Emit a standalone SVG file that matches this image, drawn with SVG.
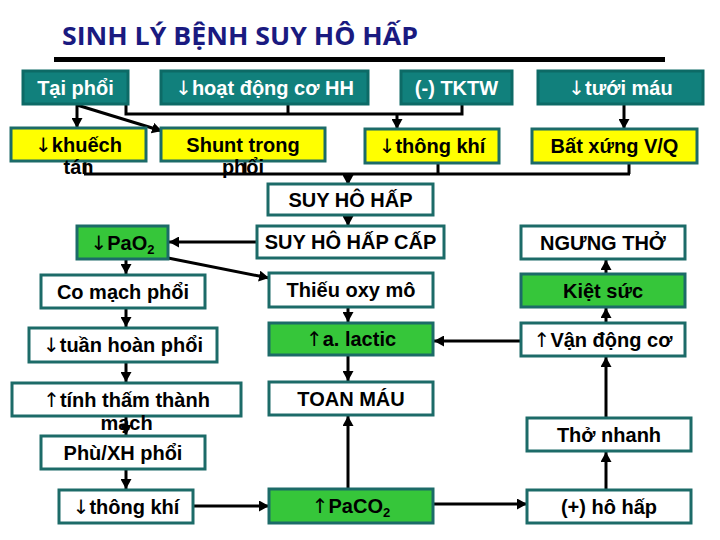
<svg xmlns="http://www.w3.org/2000/svg" width="720" height="540" viewBox="0 0 720 540">
<style>
.t rect{fill:#11807c;stroke:#0d6a66;stroke-width:3}
.y rect{fill:#ffff00;stroke:#1c6b68;stroke-width:3}
.w rect{fill:#ffffff;stroke:#1c6b68;stroke-width:3}
.g rect{fill:#36c63a;stroke:#1c6b68;stroke-width:3}
text{font-family:"Liberation Sans",Arial,sans-serif;font-weight:bold;font-size:20px;text-anchor:middle;fill:#000}
.t text{fill:#ffffff}
.title{font-family:"Open Sans","Noto Sans",sans-serif;font-size:25px;fill:#1a1a80;text-anchor:start}
#edges line,#edges polyline{stroke:#000;stroke-width:3;fill:none}
.sub{font-size:13px}
.ar{font-family:"DejaVu Sans",sans-serif;font-weight:normal;font-size:20px}
</style>
<defs>
<marker id="ah" markerUnits="userSpaceOnUse" markerWidth="10" markerHeight="11" refX="10" refY="5.5" orient="auto">
<path d="M0,0 L10,5.5 L0,11 z" fill="#000"/>
</marker>
</defs>
<rect width="720" height="540" fill="#ffffff"/>
<text class="title" x="62" y="45" textLength="356" lengthAdjust="spacingAndGlyphs">SINH LÝ BỆNH SUY HÔ HẤP</text>
<rect x="54" y="57" width="611" height="5" fill="#000"/>

<g id="edges">
<line x1="77" y1="104" x2="77" y2="128" marker-end="url(#ah)"/>
<line x1="77" y1="105" x2="162" y2="131" marker-end="url(#ah)"/>
<polyline points="126,104 126,114 462,114 462,104"/>
<line x1="288" y1="104" x2="288" y2="114"/>
<line x1="397" y1="114" x2="397" y2="129" marker-end="url(#ah)"/>
<line x1="624" y1="104" x2="624" y2="129" marker-end="url(#ah)"/>
<line x1="85" y1="161" x2="85" y2="174"/>
<line x1="245" y1="161" x2="245" y2="174"/>
<line x1="438" y1="163" x2="438" y2="174"/>
<line x1="629" y1="163" x2="629" y2="174"/>
<line x1="84" y1="174" x2="630" y2="174"/>
<line x1="348" y1="174" x2="348" y2="185" marker-end="url(#ah)"/>
<line x1="348" y1="215" x2="348" y2="226" marker-end="url(#ah)"/>
<line x1="257" y1="242" x2="169" y2="242" marker-end="url(#ah)"/>
<line x1="126" y1="259" x2="126" y2="274" marker-end="url(#ah)"/>
<line x1="168" y1="258" x2="269" y2="278" marker-end="url(#ah)"/>
<line x1="348" y1="307" x2="348" y2="322" marker-end="url(#ah)"/>
<line x1="126" y1="308" x2="126" y2="327" marker-end="url(#ah)"/>
<line x1="126" y1="362" x2="126" y2="382" marker-end="url(#ah)"/>
<line x1="126" y1="416" x2="126" y2="435" marker-end="url(#ah)"/>
<line x1="126" y1="469" x2="126" y2="489" marker-end="url(#ah)"/>
<line x1="193" y1="506" x2="269" y2="506" marker-end="url(#ah)"/>
<line x1="348" y1="489" x2="348" y2="416" marker-end="url(#ah)"/>
<line x1="348" y1="355" x2="348" y2="381" marker-end="url(#ah)"/>
<line x1="433" y1="504" x2="527" y2="504" marker-end="url(#ah)"/>
<line x1="606" y1="490" x2="606" y2="452" marker-end="url(#ah)"/>
<line x1="606" y1="418" x2="606" y2="357" marker-end="url(#ah)"/>
<line x1="606" y1="323" x2="606" y2="308" marker-end="url(#ah)"/>
<line x1="606" y1="274" x2="606" y2="260" marker-end="url(#ah)"/>
<line x1="521" y1="341" x2="434" y2="341" marker-end="url(#ah)"/>
</g>

<g id="tai-phoi" class="t"><rect x="23" y="71" width="105" height="33"/><text x="75.5" y="94.5">Tại phổi</text></g>
<g id="hoat-dong" class="t"><rect x="161" y="71" width="207" height="33"/><text x="264.5" y="94.5"><tspan class="ar">↓</tspan>hoạt động cơ HH</text></g>
<g id="tktw" class="t"><rect x="401" y="71" width="111" height="33"/><text x="456.5" y="94.5">(-) TKTW</text></g>
<g id="tuoi-mau" class="t"><rect x="538" y="71" width="165" height="33"/><text x="620.5" y="94.5"><tspan class="ar">↓</tspan>tưới máu</text></g>

<g id="khuech-tan" class="y"><rect x="11" y="128" width="135" height="33"/><text x="78.5" y="151.5"><tspan class="ar">↓</tspan>khuếch</text><text x="78.5" y="174">tán</text></g>
<g id="shunt" class="y"><rect x="161" y="128" width="164" height="33"/><text x="243" y="151.5">Shunt trong</text><text x="243" y="174">phổi</text></g>
<g id="thong-khi-1" class="y"><rect x="365" y="129" width="134" height="34"/><text x="432" y="153"><tspan class="ar">↓</tspan>thông khí</text></g>
<g id="bat-xung" class="y"><rect x="532" y="129" width="165" height="34"/><text x="614.5" y="153">Bất xứng V/Q</text></g>

<g id="suy-ho-hap" class="w"><rect x="268" y="184" width="165" height="31"/><text x="350.5" y="206.5">SUY HÔ HẤP</text></g>
<g id="suy-ho-hap-cap" class="w"><rect x="257" y="226" width="187" height="32"/><text x="350.5" y="249">SUY HÔ HẤP CẤP</text></g>
<g id="pao2" class="g"><rect x="77" y="226" width="91" height="33"/><text x="122.5" y="249.5"><tspan class="ar">↓</tspan>PaO<tspan class="sub" dy="4">2</tspan></text></g>
<g id="ngung-tho" class="w"><rect x="521" y="226" width="164" height="33"/><text x="603" y="249.5">NGƯNG THỞ</text></g>
<g id="co-mach" class="w"><rect x="41" y="275" width="164" height="33"/><text x="123" y="298.5">Co mạch phổi</text></g>
<g id="thieu-oxy" class="w"><rect x="269" y="273" width="164" height="34"/><text x="351" y="297">Thiếu oxy mô</text></g>
<g id="kiet-suc" class="g"><rect x="521" y="274" width="164" height="33"/><text x="603" y="297.5">Kiệt sức</text></g>
<g id="lactic" class="g"><rect x="269" y="323" width="164" height="32"/><text x="351" y="346"><tspan class="ar">↑</tspan>a. lactic</text></g>
<g id="van-dong" class="w"><rect x="521" y="323" width="164" height="33"/><text x="603" y="346.5"><tspan class="ar">↑</tspan>Vận động cơ</text></g>
<g id="tuan-hoan" class="w"><rect x="29" y="328" width="188" height="34"/><text x="123" y="352"><tspan class="ar">↓</tspan>tuần hoàn phổi</text></g>
<g id="tinh-tham" class="w"><rect x="12" y="383" width="229" height="33"/><text x="126.5" y="406.5"><tspan class="ar">↑</tspan>tính thấm thành</text><text x="126.5" y="430">mạch</text></g>
<g id="toan-mau" class="w"><rect x="269" y="382" width="164" height="33"/><text x="351" y="405.5">TOAN MÁU</text></g>
<g id="tho-nhanh" class="w"><rect x="527" y="418" width="164" height="33"/><text x="609" y="441.5">Thở nhanh</text></g>
<g id="phu-xh" class="w"><rect x="41" y="436" width="164" height="33"/><text x="123" y="459.5">Phù/XH phổi</text></g>
<g id="thong-khi-2" class="w"><rect x="59" y="490" width="134" height="33"/><text x="126" y="513.5"><tspan class="ar">↓</tspan>thông khí</text></g>
<g id="paco2" class="g"><rect x="269" y="489" width="164" height="34"/><text x="351" y="513"><tspan class="ar">↑</tspan>PaCO<tspan class="sub" dy="4">2</tspan></text></g>
<g id="ho-hap" class="w"><rect x="527" y="490" width="164" height="33"/><text x="609" y="513.5">(+) hô hấp</text></g>
</svg>
